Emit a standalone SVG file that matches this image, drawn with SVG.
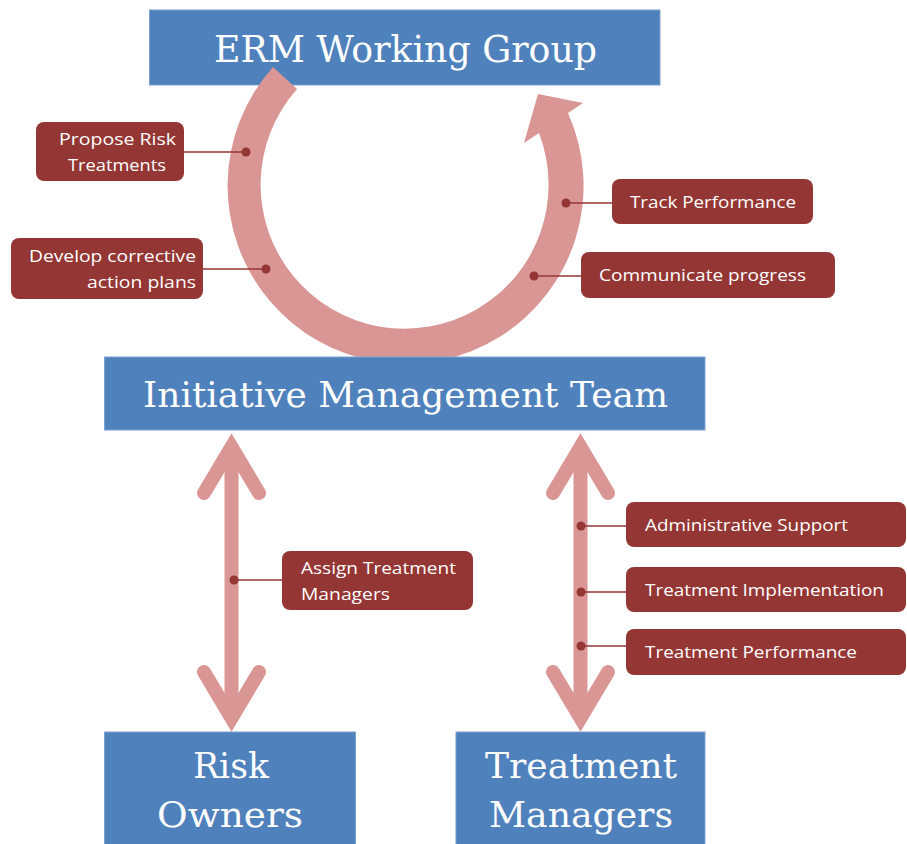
<svg xmlns="http://www.w3.org/2000/svg" width="907" height="844" viewBox="0 0 907 844">
<style>
.box{fill:#4F81BD;stroke:#7EA2CF;stroke-width:1}
.title{font-family:"DejaVu Serif","Liberation Serif",serif;fill:#FFFFFF;text-anchor:middle}
.call{fill:#943634}
.ct{font-family:"Open Sans","Noto Sans","Liberation Sans",sans-serif;font-size:17px;fill:#FFFFFF}
.lead{stroke:#943634;stroke-width:1.5;fill:none}
.dot{fill:#943634}
.band{fill:#D99694}
.arm{stroke:#D99694;stroke-width:14;fill:none;stroke-linecap:round;stroke-linejoin:miter}
.shaft{stroke:#D99694;stroke-width:14;fill:none;stroke-linecap:butt}
</style>
<rect width="907" height="844" fill="#FFFFFF"/>

<g id="erm-working-group">
<rect class="box" x="149.5" y="10" width="510.5" height="75"/>
<text class="title" x="405.5" y="62" font-size="38" textLength="383" lengthAdjust="spacingAndGlyphs">ERM Working Group</text>
</g>

<g id="connectors">
<path id="cycle-arrow" class="band" d="M 273,67 A 178 178 0 1 0 568,113 L 583,103 L 538,94 L 524,143 L 539,133 A 144 144 0 1 1 297,89 Z"/>
<g id="arrow-left">
<path class="shaft" d="M 231.5,447 L 231.5,718"/>
<path class="arm" d="M 204,493 L 231.5,447 L 259,493"/>
<path class="arm" d="M 204,672 L 231.5,718 L 259,672"/>
</g>
<g id="arrow-right">
<path class="shaft" d="M 580.5,447 L 580.5,718"/>
<path class="arm" d="M 553,493 L 580.5,447 L 608,493"/>
<path class="arm" d="M 553,672 L 580.5,718 L 608,672"/>
</g>
<path class="lead" d="M 184,152 L 246,152"/>
<path class="lead" d="M 203,269 L 266,269"/>
<path class="lead" d="M 566,203 L 612,203"/>
<path class="lead" d="M 534,276 L 581,276"/>
<path class="lead" d="M 234,580 L 282,580"/>
<path class="lead" d="M 581,526 L 626,526"/>
<path class="lead" d="M 581,592 L 626,592"/>
<path class="lead" d="M 581,646 L 626,646"/>
<circle class="dot" cx="246" cy="152" r="4.5"/>
<circle class="dot" cx="266" cy="269" r="4.5"/>
<circle class="dot" cx="566" cy="203" r="4.5"/>
<circle class="dot" cx="534" cy="276" r="4.5"/>
<circle class="dot" cx="234" cy="580" r="4.5"/>
<circle class="dot" cx="581" cy="526" r="4.5"/>
<circle class="dot" cx="581" cy="592" r="4.5"/>
<circle class="dot" cx="581" cy="646" r="4.5"/>
</g>

<g id="initiative-management-team">
<rect class="box" x="104.5" y="357" width="600.5" height="73"/>
<text class="title" x="405.5" y="407" font-size="36" textLength="525" lengthAdjust="spacingAndGlyphs">Initiative Management Team</text>
</g>

<g id="risk-owners">
<rect class="box" x="104.5" y="732" width="251" height="113"/>
<text class="title" x="231" y="778" font-size="36" textLength="76" lengthAdjust="spacingAndGlyphs">Risk</text>
<text class="title" x="230" y="827" font-size="36" textLength="146" lengthAdjust="spacingAndGlyphs">Owners</text>
</g>

<g id="treatment-managers">
<rect class="box" x="456" y="732" width="249" height="113"/>
<text class="title" x="581" y="778" font-size="36" textLength="192" lengthAdjust="spacingAndGlyphs">Treatment</text>
<text class="title" x="581" y="827" font-size="36" textLength="184" lengthAdjust="spacingAndGlyphs">Managers</text>
</g>

<g id="propose-risk-treatments">
<rect class="call" x="36" y="122" width="148" height="59" rx="8"/>
<text class="ct" x="59" y="145" textLength="117" lengthAdjust="spacingAndGlyphs">Propose Risk</text>
<text class="ct" x="68" y="171" textLength="98" lengthAdjust="spacingAndGlyphs">Treatments</text>
</g>

<g id="develop-corrective-action-plans">
<rect class="call" x="11" y="238" width="192" height="61" rx="8"/>
<text class="ct" x="29" y="262" textLength="167" lengthAdjust="spacingAndGlyphs">Develop corrective</text>
<text class="ct" x="87" y="288" textLength="109" lengthAdjust="spacingAndGlyphs">action plans</text>
</g>

<g id="track-performance">
<rect class="call" x="612" y="179" width="201" height="45" rx="8"/>
<text class="ct" x="630" y="208" textLength="166" lengthAdjust="spacingAndGlyphs">Track Performance</text>
</g>

<g id="communicate-progress">
<rect class="call" x="581" y="252" width="254" height="46" rx="8"/>
<text class="ct" x="599" y="281" textLength="207" lengthAdjust="spacingAndGlyphs">Communicate progress</text>
</g>

<g id="assign-treatment-managers">
<rect class="call" x="282" y="551" width="191" height="59" rx="8"/>
<text class="ct" x="301" y="574" textLength="155" lengthAdjust="spacingAndGlyphs">Assign Treatment</text>
<text class="ct" x="301" y="600" textLength="89" lengthAdjust="spacingAndGlyphs">Managers</text>
</g>

<g id="administrative-support">
<rect class="call" x="626" y="502" width="280" height="45" rx="8"/>
<text class="ct" x="645" y="531" textLength="203" lengthAdjust="spacingAndGlyphs">Administrative Support</text>
</g>

<g id="treatment-implementation">
<rect class="call" x="626" y="567" width="280" height="45" rx="8"/>
<text class="ct" x="645" y="596" textLength="239" lengthAdjust="spacingAndGlyphs">Treatment Implementation</text>
</g>

<g id="treatment-performance">
<rect class="call" x="626" y="629" width="280" height="46" rx="8"/>
<text class="ct" x="645" y="658" textLength="212" lengthAdjust="spacingAndGlyphs">Treatment Performance</text>
</g>
</svg>
